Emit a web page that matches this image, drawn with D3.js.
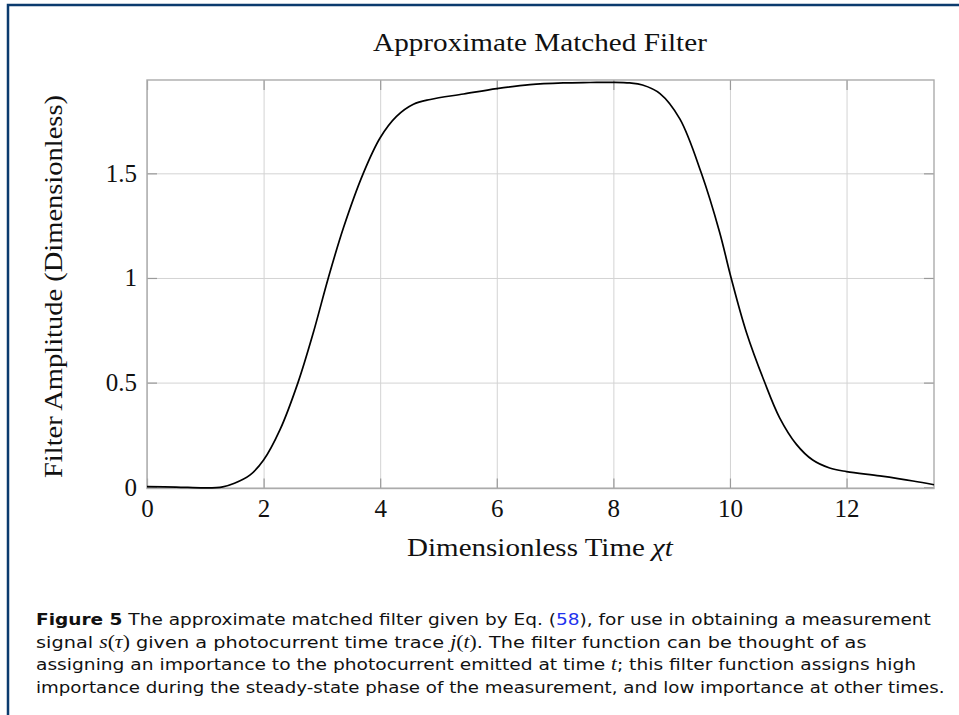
<!DOCTYPE html>
<html>
<head>
<meta charset="utf-8">
<script src="https://cdn.jsdelivr.net/npm/d3@7"></script>
<style>
  html, body { margin: 0; padding: 0; background: #fff; }
  svg { display: block; }
</style>
</head>
<body>
<svg id="chart" width="959" height="715"></svg>
<script>
// ---------- data ----------
const chartTitle = "Approximate Matched Filter";
const xAxisLabel = "Dimensionless Time ";
const yAxisLabel = "Filter Amplitude (Dimensionless)";
const xTicks = [0, 2, 4, 6, 8, 10, 12];
const xTickLabels = ["0", "2", "4", "6", "8", "10", "12"];
const yTicks = [0, 0.5, 1, 1.5];
const yTickLabels = ["0", "0.5", "1", "1.5"];
const timeValues = [0, 0.5, 1.0, 1.3, 1.5, 1.77, 2.0, 2.28, 2.59, 2.85, 3.11, 3.37, 3.71, 4.0, 4.28, 4.57, 4.86,
  5.43, 6.0, 6.57, 7.14, 7.6, 8.0, 8.28, 8.5, 8.8, 9.14, 9.51, 9.82, 10.02, 10.28, 10.59, 10.85, 11.14,
  11.42, 11.71, 12.0, 12.57, 13.14, 13.5];
const filterValues = [0.003, 0.001, -0.003, 0.002, 0.019, 0.059, 0.13, 0.274, 0.5, 0.736, 1.0, 1.24, 1.5, 1.67,
  1.772, 1.83, 1.853, 1.879, 1.905, 1.924, 1.932, 1.934, 1.935, 1.932, 1.922, 1.881, 1.76, 1.5, 1.221, 1.0,
  0.742, 0.505, 0.333, 0.205, 0.13, 0.092, 0.075, 0.054, 0.03, 0.012];

// ---------- layout ----------
const svg = d3.select("#chart");
const pL = 147, pR = 934, pT = 80, pB = 488.5;
const serif = "'Liberation Serif', 'Times New Roman', serif";
const sans = "'DejaVu Sans', sans-serif";

svg.append("rect").attr("width", 959).attr("height", 715).attr("fill", "#fff");

// page frame (blue)
svg.append("path")
  .attr("d", "M8,715 L8,5 L959,5")
  .attr("fill", "none").attr("stroke", "#0b3b6e").attr("stroke-width", 2.5);

const x = d3.scaleLinear().domain([0, 13.5]).range([pL, pR]);
const y = d3.scaleLinear().domain([-0.006, 1.946]).range([pB, pT]);

// grid
const gridX = svg.append("g").attr("transform", `translate(0,${pB})`)
  .call(d3.axisBottom(x).tickValues(xTicks).tickSize(-(pB - pT)).tickFormat(""));
const gridY = svg.append("g").attr("transform", `translate(${pL},0)`)
  .call(d3.axisLeft(y).tickValues(yTicks).tickSize(-(pR - pL)).tickFormat(""));
[gridX, gridY].forEach(g => {
  g.select(".domain").remove();
  g.selectAll("line").attr("stroke", "#d3d3d3").attr("stroke-width", 1);
});

// inward ticks on all four sides
const axB = svg.append("g").attr("transform", `translate(0,${pB})`)
  .call(d3.axisBottom(x).tickValues(xTicks).tickSizeInner(-10).tickSizeOuter(0).tickPadding(11)
    .tickFormat((d, i) => xTickLabels[i]));
const axT = svg.append("g").attr("transform", `translate(0,${pT})`)
  .call(d3.axisTop(x).tickValues(xTicks).tickSizeInner(-10).tickSizeOuter(0).tickFormat(""));
const axL = svg.append("g").attr("transform", `translate(${pL},0)`)
  .call(d3.axisLeft(y).tickValues(yTicks).tickSizeInner(-10).tickSizeOuter(0).tickPadding(10)
    .tickFormat((d, i) => yTickLabels[i]));
const axR = svg.append("g").attr("transform", `translate(${pR},0)`)
  .call(d3.axisRight(y).tickValues(yTicks).tickSizeInner(-10).tickSizeOuter(0).tickFormat(""));
[axB, axT, axL, axR].forEach(g => {
  g.select(".domain").remove();
  g.selectAll("line").attr("stroke", "#9a9a9a").attr("stroke-width", 1.2);
  g.selectAll("text").attr("font-family", serif).attr("font-size", 25).attr("fill", "#111");
});

// frame
svg.append("rect")
  .attr("x", pL).attr("y", pT).attr("width", pR - pL).attr("height", pB - pT)
  .attr("fill", "none").attr("stroke", "#ababab").attr("stroke-width", 1.4);

// curve
const line = d3.line()
  .x((d, i) => x(timeValues[i]))
  .y(d => y(d))
  .curve(d3.curveCatmullRom.alpha(0.5));
svg.append("path")
  .datum(filterValues)
  .attr("d", line)
  .attr("fill", "none").attr("stroke", "#000").attr("stroke-width", 1.7)
  .attr("stroke-linejoin", "round");

// helper: horizontally fit text to a target width
function fitX(textSel, ax, ay, target) {
  const node = textSel.node();
  const w = node.getComputedTextLength();
  const s = target / w;
  textSel.attr("transform", `translate(${ax},${ay}) scale(${s},1)`);
}

// title
const title = svg.append("text")
  .attr("x", 0).attr("y", 0).attr("text-anchor", "middle")
  .attr("font-family", serif).attr("font-size", 25).attr("fill", "#111")
  .text(chartTitle);
fitX(title, 540, 51, 334);

// x label
const xl = svg.append("text")
  .attr("x", 0).attr("y", 0).attr("text-anchor", "middle")
  .attr("font-family", serif).attr("font-size", 25).attr("fill", "#111");
xl.append("tspan").text(xAxisLabel);
xl.append("tspan").attr("font-style", "italic").text("χt");
fitX(xl, 540, 556, 266);

// y label
svg.append("text")
  .attr("transform", "translate(62,286.5) rotate(-90)")
  .attr("text-anchor", "middle")
  .attr("font-family", serif).attr("font-size", 25).attr("fill", "#111")
  .attr("textLength", 383).attr("lengthAdjust", "spacingAndGlyphs")
  .text(yAxisLabel);

// caption
const captionLines = [
  [{t: "Figure 5", b: true}, {t: " The approximate matched filter given by Eq. ("}, {t: "58", c: "#2233ee"}, {t: "), for use in obtaining a measurement"}],
  [{t: "signal "}, {t: "s", m: true}, {t: "(", s: true}, {t: "τ", m: true}, {t: ")", s: true}, {t: " given a photocurrent time trace "}, {t: "j", m: true}, {t: "(", s: true}, {t: "t", m: true}, {t: ")", s: true}, {t: ". The filter function can be thought of as"}],
  [{t: "assigning an importance to the photocurrent emitted at time "}, {t: "t", m: true}, {t: "; this filter function assigns high"}],
  [{t: "importance during the steady-state phase of the measurement, and low importance at other times."}]
];
const captionBaselines = [625, 647.5, 670, 692.5];
const captionWidths = [895.7, 830.7, 880.7, 909];
captionLines.forEach((parts, i) => {
  const t = svg.append("text").attr("x", 0).attr("y", 0)
    .attr("font-family", sans).attr("font-size", 16).attr("fill", "#111");
  parts.forEach(p => {
    const ts = t.append("tspan").text(p.t);
    if (p.b) ts.attr("font-weight", "bold");
    if (p.c) ts.attr("fill", p.c);
    if (p.m) ts.attr("font-family", serif).attr("font-style", "italic").attr("font-size", 18);
    if (p.s) ts.attr("font-family", serif).attr("font-size", 18);
  });
  fitX(t, 36, captionBaselines[i], captionWidths[i]);
});
</script>
</body>
</html>
